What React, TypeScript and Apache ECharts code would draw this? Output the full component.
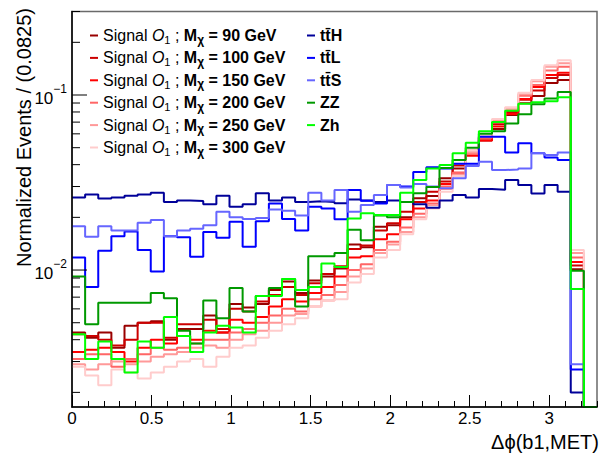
import React, { useEffect, useRef } from "react";
import * as echarts from "echarts";

// ---- binning / axes ----
const BIN_WIDTH = 0.0825;
const X_MIN = 0;
const X_MAX = 3.3;
const Y_MIN = 0.00165;
const Y_MAX = 0.3;
const Y_TICKS = [
  0.002, 0.003, 0.004, 0.005, 0.006, 0.007, 0.008, 0.009,
  0.01, 0.02, 0.03, 0.04, 0.05, 0.06, 0.07, 0.08, 0.09,
  0.1, 0.2, 0.3,
];
const Y_MAJOR = [0.01, 0.1];

// ---- legend labels ----
const SIGNAL_MASSES = ["90", "100", "150", "200", "250", "300"];
const BKG_NAMES = ["tt\u0304H", "tt\u0304L", "tt\u0304S", "ZZ", "Zh"];

// ---- series values (40 bins of 0.0825 in Δφ) ----
const sig90 = [0.0044,0.0041,0.0044,0.0036,0.0048,0.0050,0.0051,0.0040,0.0046,0.0046,
  0.0055,0.0044,0.0064,0.0061,0.0064,0.0077,0.0086,0.0074,0.0087,0.0092,
  0.0102,0.0140,0.0135,0.0177,0.0180,0.0200,0.0257,0.0265,0.0334,0.0380,
  0.0460,0.0550,0.0640,0.0770,0.0896,0.0986,0.1170,0.1220,0.0101,0];
const sig100 = [0.0043,0.0042,0.0040,0.0037,0.0040,0.0050,0.0050,0.0041,0.0049,0.0049,
  0.0052,0.0046,0.0060,0.0058,0.0066,0.0072,0.0080,0.0072,0.0084,0.0095,
  0.0105,0.0132,0.0138,0.0168,0.0185,0.0215,0.0245,0.0280,0.0320,0.0395,
  0.0480,0.0570,0.0680,0.0800,0.0940,0.1060,0.1250,0.1300,0.0106,0];
const sig150 = [0.0034,0.0035,0.0036,0.0034,0.0030,0.0036,0.0040,0.0038,0.0042,0.0040,
  0.0045,0.0044,0.0052,0.0050,0.0054,0.0062,0.0068,0.0066,0.0074,0.0080,
  0.0092,0.0118,0.0120,0.0150,0.0160,0.0195,0.0225,0.0250,0.0310,0.0360,
  0.0450,0.0550,0.0660,0.0780,0.0950,0.1110,0.1300,0.1340,0.0111,0];
const sig200 = [0.0031,0.0033,0.0033,0.0028,0.0031,0.0033,0.0036,0.0035,0.0036,0.0038,
  0.0040,0.0040,0.0044,0.0046,0.0050,0.0055,0.0060,0.0058,0.0068,0.0072,
  0.0082,0.0100,0.0108,0.0130,0.0145,0.0175,0.0210,0.0240,0.0300,0.0360,
  0.0460,0.0570,0.0700,0.0820,0.0990,0.1140,0.1380,0.1450,0.0118,0];
const sig250 = [0.0029,0.0027,0.0029,0.0030,0.0029,0.0030,0.0032,0.0033,0.0034,0.0036,
  0.0037,0.0036,0.0040,0.0043,0.0045,0.0050,0.0055,0.0056,0.0062,0.0067,
  0.0075,0.0092,0.0102,0.0125,0.0140,0.0165,0.0200,0.0235,0.0290,0.0350,
  0.0470,0.0580,0.0720,0.0830,0.1010,0.1200,0.1450,0.1520,0.0125,0];
const sig300 = [0.0028,0.0025,0.0022,0.0027,0.0026,0.0024,0.0026,0.0028,0.0030,0.0031,
  0.0028,0.0032,0.0036,0.0037,0.0041,0.0045,0.0049,0.0053,0.0062,0.0067,
  0.0068,0.0085,0.0095,0.0118,0.0130,0.0160,0.0195,0.0225,0.0280,0.0345,
  0.0480,0.0600,0.0730,0.0850,0.1030,0.1220,0.1480,0.1580,0.0130,0];
const ttH = [0.0260,0.0270,0.0256,0.0260,0.0266,0.0270,0.0276,0.0245,0.0250,0.0248,
  0.0238,0.0266,0.0230,0.0238,0.0275,0.0250,0.0260,0.0245,0.0247,0.0245,
  0.0241,0.0253,0.0250,0.0245,0.0250,0.0245,0.0238,0.0227,0.0250,0.0268,
  0.0260,0.0290,0.0288,0.0327,0.0306,0.0274,0.0306,0.0280,0.0020,0];
const ttL = [0.0118,0.0080,0.0129,0.0156,0.0166,0.0130,0.0098,0.0156,0.0154,0.0119,
  0.0165,0.0153,0.0189,0.0136,0.0190,0.0240,0.0196,0.0168,0.0230,0.0225,
  0.0195,0.0287,0.0249,0.0240,0.0306,0.0300,0.0363,0.0386,0.0380,0.0405,
  0.0405,0.0578,0.0578,0.0470,0.0530,0.0465,0.0440,0.0425,0.0027,0];
const ttS = [0.0178,0.0155,0.0178,0.0168,0.0168,0.0186,0.0193,0.0156,0.0168,0.0172,
  0.0180,0.0215,0.0200,0.0196,0.0198,0.0222,0.0218,0.0205,0.0276,0.0250,
  0.0287,0.0215,0.0235,0.0268,0.0306,0.0296,0.0310,0.0300,0.0293,0.0335,
  0.0393,0.0416,0.0373,0.0375,0.0380,0.0466,0.0454,0.0470,0.0029,0];
const zz = [0.0092,0.0049,0.0065,0.0065,0.0065,0.0065,0.0074,0.0069,0.0045,0.0038,
  0.0067,0.0053,0.0079,0.0058,0.0071,0.0079,0.0089,0.0062,0.0120,0.0120,
  0.0125,0.0170,0.0148,0.0205,0.0200,0.0245,0.0275,0.0298,0.0383,0.0425,
  0.0500,0.0600,0.0620,0.0688,0.0776,0.0885,0.0955,0.1040,0.0099,0];
const zh = [0.0043,0.0031,0.0039,0.0031,0.0026,0.0039,0.0036,0.0054,0.0042,0.0034,
  0.0044,0.0048,0.0047,0.0044,0.0071,0.0071,0.0089,0.0077,0.0080,0.0109,
  0.0104,0.0197,0.0211,0.0206,0.0206,0.0276,0.0327,0.0380,0.0398,0.0465,
  0.0534,0.0620,0.0700,0.0813,0.0890,0.0910,0.0920,0.0970,0.0078,0];

const SIGNAL_VALUES = [sig90, sig100, sig150, sig200, sig250, sig300];
const SIGNAL_COLORS = ["#990000", "#cc0000", "#ff0000", "#ff6666", "#ff9999", "#ffcccc"];
const BKG_VALUES = [ttH, ttL, ttS, zz, zh];
const BKG_COLORS = ["#000099", "#0000ff", "#6666ff", "#009900", "#00ff00"];

const FONT = "'Liberation Sans', Arial, Helvetica, sans-serif";

function signalName(m: string) {
  return `Signal O1; M\u03c7 = ${m} GeV`;
}

function histPoints(vals: number[]) {
  const pts: number[][] = vals.map((v, i) => [
    Math.round(i * BIN_WIDTH * 1e5) / 1e5,
    v > 0 ? v : Y_MIN,
  ]);
  const last = vals[vals.length - 1];
  pts.push([X_MAX, last > 0 ? last : Y_MIN]);
  return pts;
}

function lineSeries(name: string, vals: number[], color: string) {
  return {
    type: "line",
    name,
    data: histPoints(vals),
    step: "end",
    symbol: "none",
    showSymbol: false,
    color,
    lineStyle: { color, width: 2 },
    xAxisIndex: 0,
    yAxisIndex: 0,
    clip: true,
    silent: true,
    z: 3,
  };
}

export default function App() {
  const ref = useRef<HTMLDivElement>(null);

  useEffect(() => {
    if (!ref.current) return;
    const chart = echarts.init(ref.current, null, { renderer: "svg" });

    const signalNames = SIGNAL_MASSES.map(signalName);
    const series: any[] = [];
    SIGNAL_VALUES.forEach((vals, i) => series.push(lineSeries(signalNames[i], vals, SIGNAL_COLORS[i])));
    BKG_VALUES.forEach((vals, i) => series.push(lineSeries(BKG_NAMES[i], vals, BKG_COLORS[i])));

    series.push({
      type: "custom",
      name: "yTicks",
      xAxisIndex: 0,
      yAxisIndex: 0,
      silent: true,
      clip: false,
      z: 6,
      data: Y_TICKS.map((v) => [X_MIN, v]),
      renderItem: (_params: any, api: any) => {
        const v = api.value(1);
        const p = api.coord([X_MIN, v]);
        const major = Y_MAJOR.some((m) => Math.abs(m - v) / m < 1e-6);
        const len = major ? 15 : 8;
        return {
          type: "line",
          shape: { x1: p[0], y1: p[1], x2: p[0] + len, y2: p[1] },
          style: { stroke: "#000", lineWidth: 1 },
        };
      },
    });

    const richBase = { fontFamily: FONT, fontSize: 16, color: "#000", lineHeight: 20 };

    const option: any = {
      animation: false,
      backgroundColor: "#fff",
      grid: {
        left: 72,
        right: 11,
        top: 11.5,
        bottom: 50,
        show: true,
        borderColor: "#6a6a6a",
        borderWidth: 1.5,
        backgroundColor: "transparent",
        containLabel: false,
        outerBoundsMode: "none",
      },
      xAxis: [
        {
          type: "value",
          min: X_MIN,
          max: X_MAX,
          interval: 0.5,
          position: "bottom",
          axisLine: { show: true, onZero: false, lineStyle: { color: "#000", width: 1.5 } },
          axisTick: { show: true, inside: true, length: 12, lineStyle: { color: "#000", width: 1 } },
          axisLabel: {
            show: true,
            color: "#000",
            fontFamily: FONT,
            fontSize: 17,
            margin: 3,
            showMaxLabel: false,
            formatter: (v: number) => {
              const r = Math.round(v * 10) / 10;
              return Math.abs(r / 0.5 - Math.round(r / 0.5)) < 1e-6 ? String(r) : "";
            },
          },
          splitLine: { show: false },
          z: 5,
        },
        {
          type: "value",
          min: X_MIN,
          max: X_MAX,
          interval: 0.1,
          position: "bottom",
          axisLine: { show: false },
          axisTick: { show: true, inside: true, length: 6, lineStyle: { color: "#000", width: 1 } },
          axisLabel: { show: false },
          splitLine: { show: false },
          z: 5,
        },
      ],
      yAxis: {
        type: "log",
        logBase: 10,
        min: Y_MIN,
        max: Y_MAX,
        axisLine: { show: true, onZero: false, lineStyle: { color: "#000", width: 1.5 } },
        axisTick: { show: false },
        splitLine: { show: false },
        minorTick: { show: false },
        axisLabel: {
          show: true,
          margin: 5,
          showMinLabel: false,
          showMaxLabel: false,
          formatter: (v: number) => {
            const e = Math.log10(v);
            if (Math.abs(e - Math.round(e)) > 1e-6) return "";
            const n = Math.round(e);
            return `{b|10}{s|${n < 0 ? "\u2212" : ""}${Math.abs(n)}}`;
          },
          rich: {
            b: { fontFamily: FONT, fontSize: 17, color: "#000", lineHeight: 24, verticalAlign: "bottom" },
            s: { fontFamily: FONT, fontSize: 12, color: "#000", lineHeight: 13, verticalAlign: "top" },
          },
        },
        z: 5,
      },
      legend: [
        {
          data: signalNames,
          orient: "vertical",
          left: 90,
          top: 25.5,
          padding: 0,
          itemGap: 2.4,
          itemWidth: 8,
          itemHeight: 2,
          icon: "rect",
          selectedMode: false,
          formatter: (name: string) => {
            const m = SIGNAL_MASSES[signalNames.indexOf(name)];
            return `{n|Signal }{i|O}{sub|1}{n| ; }{b|M}{bs|\u03c7}{b| = ${m} GeV}`;
          },
          textStyle: {
            ...richBase,
            rich: {
              n: { ...richBase },
              i: { ...richBase, fontStyle: "italic" },
              sub: { fontFamily: FONT, fontSize: 11, color: "#000", lineHeight: 12, verticalAlign: "bottom" },
              b: { ...richBase, fontWeight: "bold" },
              bs: { fontFamily: FONT, fontSize: 12, fontWeight: "bold", color: "#000", lineHeight: 11, verticalAlign: "bottom" },
            },
          },
        },
        {
          data: BKG_NAMES,
          orient: "vertical",
          left: 307,
          top: 25.5,
          padding: 0,
          itemGap: 2.4,
          itemWidth: 8,
          itemHeight: 2,
          icon: "rect",
          selectedMode: false,
          textStyle: { ...richBase, fontWeight: "bold" },
        },
      ],
      graphic: [
        {
          type: "text",
          x: 24,
          y: 8,
          rotation: Math.PI / 2,
          silent: true,
          style: {
            text: "Normalized Events / (0.0825)",
            fontFamily: FONT,
            fontSize: 20,
            fill: "#000",
            align: "right",
            verticalAlign: "middle",
            textAlign: "right",
            textVerticalAlign: "middle",
          },
        },
        {
          type: "text",
          x: 599,
          y: 442,
          silent: true,
          style: {
            text: "\u0394\u03d5(b1,MET)",
            fontFamily: FONT,
            fontSize: 20,
            fill: "#000",
            align: "right",
            verticalAlign: "middle",
            textAlign: "right",
            textVerticalAlign: "middle",
          },
        },
      ],
      series,
    };

    chart.setOption(option);
    return () => chart.dispose();
  }, []);

  return (
    <div
      ref={ref}
      style={{ position: "fixed", left: 0, top: 0, width: 608, height: 457 }}
    />
  );
}
